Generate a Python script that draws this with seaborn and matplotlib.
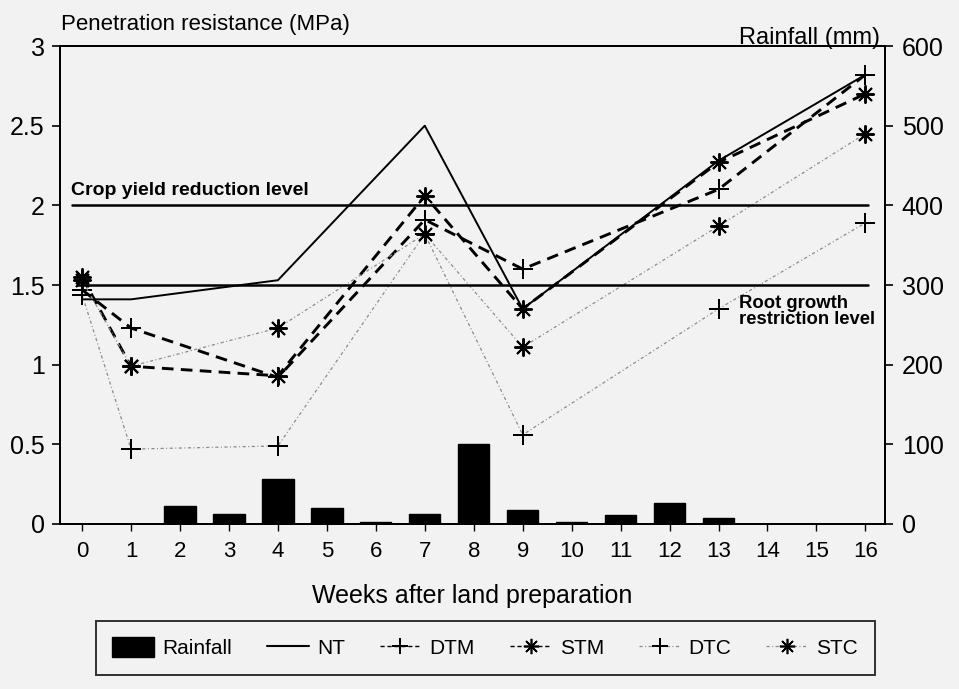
import matplotlib
matplotlib.use("Agg")
import matplotlib.pyplot as plt
from matplotlib.lines import Line2D
from matplotlib.patches import Patch
import seaborn as sns

# Sampling weeks for penetration resistance (MPa)
weeks = [0, 1, 4, 7, 9, 13, 16]
nt = [1.41, 1.41, 1.53, 2.50, 1.35, 2.28, 2.82]
dtm = [1.47, 1.23, 0.92, 1.91, 1.60, 2.10, 2.82]
stm = [1.55, 0.99, 0.93, 2.06, 1.35, 2.27, 2.70]
dtc = [1.44, 0.47, 0.49, 1.82, 0.56, 1.35, 1.89]
stc = [1.53, 0.99, 1.23, 1.82, 1.11, 1.87, 2.45]

# Weekly rainfall (mm)
rain_weeks = list(range(17))
rainfall = [0, 0, 22, 12, 57, 20, 3, 12, 100, 18, 3, 11, 26, 7, 0, 0, 0]

crop_yield_level = 2.0
root_growth_level = 1.5

sns.set_style("white")
plt.rcParams["font.family"] = ["Liberation Sans", "DejaVu Sans"]
plt.rcParams["text.color"] = "black"
plt.rcParams["axes.labelcolor"] = "black"
plt.rcParams["xtick.color"] = "black"
plt.rcParams["ytick.color"] = "black"

paper = "#f2f2f2"
fig = plt.figure(figsize=(9.59, 6.89), dpi=100, facecolor=paper)
ax = fig.add_axes([0.0626, 0.2395, 0.8602, 0.6937])
ax2 = ax.twinx()

# Rainfall bars on the right-hand axis, behind the resistance lines
sns.barplot(x=rain_weeks, y=rainfall, ax=ax2, native_scale=True,
            color="black", saturation=1, width=0.64, edgecolor="black")
ax.set_zorder(ax2.get_zorder() + 1)
ax.patch.set_visible(False)

plus = (4, 2, 0)
star = (8, 2, 0)
dash = (0, (4, 2.5))
dot = (0, (2.5, 2, 0.8, 2))

series = [
    (nt, 0, dict(color="black", lw=1.4, linestyle="-", marker=None)),
    (dtm, 15, dict(color="black", lw=2.1, linestyle=dash, marker=plus)),
    (stm, 13, dict(color="black", lw=2.1, linestyle=dash, marker=star)),
    (dtc, 15, dict(color="#8a8a8a", lw=0.9, linestyle=dot, marker=plus)),
    (stc, 13, dict(color="#8a8a8a", lw=0.9, linestyle=dot, marker=star)),
]
for vals, ms, kw in series:
    sns.lineplot(x=weeks, y=vals, ax=ax, markersize=ms,
                 markeredgecolor="black", markeredgewidth=1.4,
                 markerfacecolor="black", **kw)

# Threshold levels
ax.plot([-0.2, 16.05], [crop_yield_level] * 2, color="black", lw=1.8)
ax.plot([-0.1, 16.05], [root_growth_level] * 2, color="black", lw=1.8)
ax.text(-0.22, crop_yield_level + 0.04, "Crop yield reduction level",
        fontsize=14, fontweight="bold", ha="left", va="bottom")
ax.text(13.42, 1.44, "Root growth\nrestriction level", fontsize=13.3,
        fontweight="bold", ha="left", va="top", linespacing=0.95)

ax.set_xlim(-0.45, 16.4)
ax.set_ylim(0, 3)
ax2.set_ylim(0, 600)
ax.set_xticks(rain_weeks)
ax.set_xticklabels([str(w) for w in rain_weeks])
ax.set_yticks([0, 0.5, 1, 1.5, 2, 2.5, 3])
ax.set_yticklabels(["0", "0.5", "1", "1.5", "2", "2.5", "3"])
ax2.set_yticks([0, 100, 200, 300, 400, 500, 600])
ax2.set_xlabel("")
ax2.set_ylabel("")
ax.set_ylabel("")
ax.set_xlabel("Weeks after land preparation", fontsize=18, labelpad=16)

ax.tick_params(axis="x", direction="out", length=5, width=1, labelsize=16,
               pad=7, bottom=True)
ax.tick_params(axis="y", direction="out", length=6, width=1.2, labelsize=18,
               pad=5, left=True)
ax2.tick_params(axis="y", direction="out", length=6, width=1.2, labelsize=18,
                pad=6, right=True)
for a in (ax, ax2):
    for s in a.spines.values():
        s.set_color("black")
        s.set_linewidth(1.4)

fig.text(0.064, 0.965, "Penetration resistance (MPa)", fontsize=16,
         ha="left", va="center")
fig.text(0.918, 0.945, "Rainfall (mm)", fontsize=17, ha="right", va="center")

handles = [
    Patch(facecolor="black", edgecolor="black"),
    Line2D([], [], color="black", lw=1.5),
    Line2D([], [], color="black", lw=1.0, linestyle=(0, (3, 2)), marker=plus,
           markersize=12, markeredgecolor="black", markeredgewidth=1.2),
    Line2D([], [], color="black", lw=1.0, linestyle=(0, (3, 2)), marker=star,
           markersize=11, markeredgecolor="black", markeredgewidth=1.2),
    Line2D([], [], color="#8a8a8a", lw=0.9, linestyle=dot, marker=plus,
           markersize=12, markeredgecolor="black", markeredgewidth=1.2),
    Line2D([], [], color="#8a8a8a", lw=0.9, linestyle=dot, marker=star,
           markersize=11, markeredgecolor="black", markeredgewidth=1.2),
]
labels = ["Rainfall", "NT", "DTM", "STM", "DTC", "STC"]
leg = fig.legend(handles, labels, loc="lower left", ncol=6, mode="expand",
                 bbox_to_anchor=(0.089, 0.005, 0.834, 0.085), fontsize=15,
                 frameon=True, fancybox=False, edgecolor="black",
                 handlelength=2.0, handleheight=1.1, handletextpad=0.4,
                 borderpad=0.8, numpoints=1)
leg.get_frame().set_linewidth(1.4)
leg.get_frame().set_facecolor(paper)

fig.savefig("out.png", dpi=100, facecolor=paper)
